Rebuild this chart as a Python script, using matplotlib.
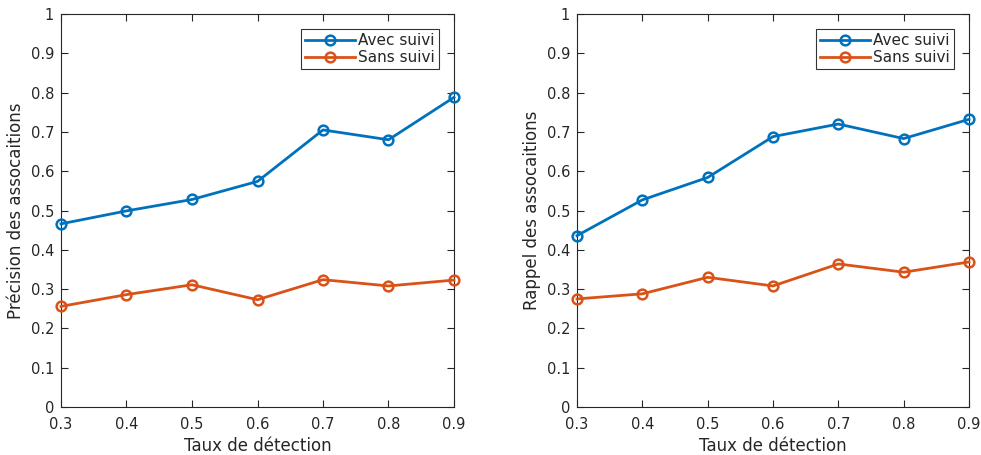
import matplotlib.pyplot as plt

taux = [0.3, 0.4, 0.5, 0.6, 0.7, 0.8, 0.9]
precision_avec = [0.466, 0.499, 0.528, 0.574, 0.705, 0.680, 0.788]
precision_sans = [0.256, 0.286, 0.311, 0.273, 0.324, 0.308, 0.323]
rappel_avec = [0.436, 0.527, 0.584, 0.688, 0.720, 0.683, 0.732]
rappel_sans = [0.275, 0.288, 0.330, 0.308, 0.364, 0.343, 0.369]

blue = "#0072BD"
orange = "#D95319"
grey = "#262626"

plt.rcParams["font.family"] = "DejaVu Sans"
fig = plt.figure(figsize=(9.81, 4.55), dpi=100)
ax1 = fig.add_axes([61 / 981, 1 - 407 / 455, 393 / 981, 393 / 455])
ax2 = fig.add_axes([577 / 981, 1 - 407 / 455, 392 / 981, 393 / 455])

for ax, avec, sans, ylab in [(ax1, precision_avec, precision_sans, "Précision des assocaitions"),
                             (ax2, rappel_avec, rappel_sans, "Rappel des assocaitions")]:
    ax.plot(taux, avec, "-o", color=blue, lw=2, ms=7, mfc="none", mew=1.8,
            label="Avec suivi", clip_on=False, zorder=3)
    ax.plot(taux, sans, "-o", color=orange, lw=2, ms=7, mfc="none", mew=1.8,
            label="Sans suivi", clip_on=False, zorder=3)
    ax.set_xlim(0.3, 0.9)
    ax.set_ylim(0, 1)
    ax.set_xticks(taux)
    ax.set_xticklabels(["0.3", "0.4", "0.5", "0.6", "0.7", "0.8", "0.9"])
    ax.set_yticks([0, 0.1, 0.2, 0.3, 0.4, 0.5, 0.6, 0.7, 0.8, 0.9, 1])
    ax.set_yticklabels(["0", "0.1", "0.2", "0.3", "0.4", "0.5", "0.6", "0.7", "0.8", "0.9", "1"])
    ax.tick_params(direction="in", top=True, right=True, length=5, width=0.8,
                   colors=grey, labelsize=10.5)
    ax.tick_params(axis="x", pad=7)
    ax.tick_params(axis="y", pad=5)
    for s in ax.spines.values():
        s.set_color(grey)
        s.set_linewidth(0.8)
    ax.set_xlabel("Taux de détection", fontsize=12, color=grey, labelpad=4)
    ax.set_ylabel(ylab, fontsize=12, color=grey, labelpad=4)
    leg = ax.legend(loc="upper right", fancybox=False, edgecolor="black", fontsize=11,
                    borderaxespad=1.0, handlelength=3.3, borderpad=0.25, labelspacing=0.15,
                    handletextpad=0.2)
    leg.get_frame().set_linewidth(0.8)
    for t in leg.get_texts():
        t.set_color(grey)

fig.savefig("out.png", dpi=100)
